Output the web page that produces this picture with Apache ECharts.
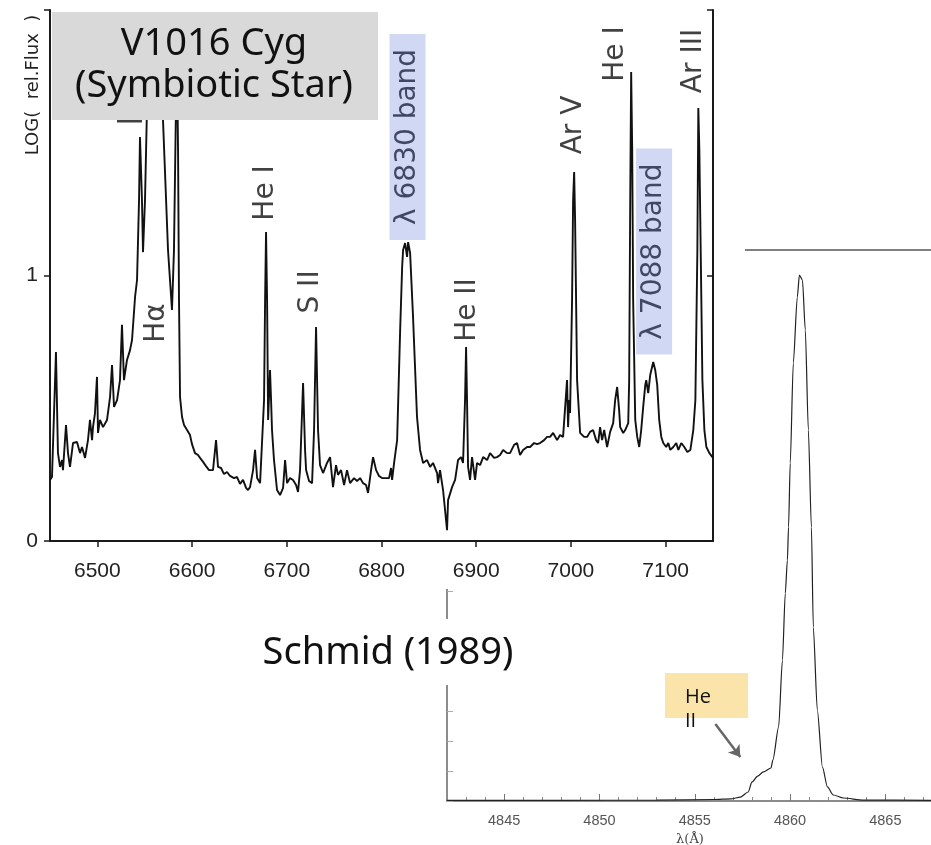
<!DOCTYPE html>
<html><head><meta charset="utf-8">
<script src="https://cdn.jsdelivr.net/npm/echarts@6.0.0/dist/echarts.min.js"></script>
<style>html,body{margin:0;padding:0;background:#fff}#c{width:931px;height:845px}</style>
</head><body><div id="c"></div>
<script>
// ---- Spectrum of V1016 Cyg (Schmid 1989): wavelength (Å) and LOG(rel. flux)
const specWave = [6450.0,6452.1,6456.3,6458.4,6460.6,6462.7,6463.7,6466.9,6469.0,6471.1,
6474.3,6478.5,6481.7,6483.8,6487.0,6490.1,6492.2,6494.4,6495.4,6497.5,
6499.6,6500.7,6502.8,6506.0,6510.2,6513.4,6515.5,6517.6,6520.8,6523.9,
6526.0,6528.1,6531.3,6534.5,6536.6,6539.8,6541.9,6544.0,6545.0,6547.1,
6548.2,6550.3,6553.5,6555.6,6560.9,6566.2,6569.3,6574.6,6578.8,6580.9,
6583.1,6584.1,6585.2,6586.2,6587.3,6589.4,6591.5,6594.7,6597.8,6599.9,
6603.1,6606.3,6608.4,6611.6,6614.7,6617.9,6622.1,6625.3,6627.4,6630.6,
6633.7,6636.9,6640.1,6644.3,6647.5,6650.6,6653.8,6657.0,6659.1,6661.2,
6664.4,6666.5,6668.7,6671.8,6673.9,6676.0,6677.1,6678.1,6679.2,6680.3,
6682.3,6683.4,6684.4,6686.5,6689.7,6692.9,6696.1,6698.2,6700.3,6703.4,
6706.6,6709.8,6711.9,6714.0,6717.2,6719.3,6720.4,6723.5,6726.7,6728.8,
6730.9,6733.0,6735.1,6738.3,6742.5,6745.7,6748.8,6752.0,6754.1,6757.3,
6760.5,6763.6,6766.8,6771.0,6774.2,6777.4,6780.5,6783.7,6785.8,6789.0,
6791.1,6794.3,6797.4,6800.6,6804.8,6808.0,6810.1,6811.2,6813.3,6816.5,
6819.6,6821.8,6822.8,6824.9,6827.0,6828.1,6830.2,6833.3,6837.5,6840.7,
6843.9,6848.1,6851.3,6854.4,6858.7,6859.7,6861.8,6865.0,6869.2,6870.3,
6874.5,6877.7,6880.8,6884.0,6886.1,6888.2,6889.3,6890.3,6891.4,6893.5,
6895.6,6898.8,6900.9,6904.1,6907.3,6911.5,6914.6,6918.9,6922.0,6925.2,
6928.4,6932.6,6935.7,6940.0,6943.1,6946.3,6949.5,6953.7,6956.9,6961.1,
6964.3,6967.4,6971.7,6974.8,6978.0,6981.2,6985.4,6988.5,6991.7,6993.8,
6995.9,6997.0,6998.1,6999.1,7001.2,7002.3,7003.4,7004.4,7006.5,7009.7,
7013.9,7017.1,7020.2,7023.4,7026.6,7028.7,7030.8,7032.9,7035.1,7038.2,
7041.4,7044.6,7046.7,7048.8,7050.9,7052.0,7055.2,7057.3,7060.5,7061.5,
7062.6,7063.6,7064.7,7065.7,7067.9,7070.0,7072.1,7074.2,7076.3,7078.5,
7079.5,7081.6,7083.7,7086.9,7089.0,7091.1,7093.2,7095.4,7097.5,7100.6,
7102.8,7104.9,7108.1,7111.2,7113.4,7116.5,7119.7,7122.9,7126.1,7129.2,
7131.4,7133.5,7134.5,7135.6,7137.7,7138.8,7140.9,7143.0,7146.2,7150.0];
const specLogFlux = [0.230,0.241,0.712,0.331,0.279,0.305,0.267,0.437,0.331,0.279,
0.369,0.373,0.331,0.354,0.313,0.380,0.456,0.380,0.429,0.482,
0.618,0.407,0.456,0.429,0.456,0.542,0.663,0.505,0.531,0.606,
0.814,0.606,0.682,0.719,0.757,0.919,0.983,1.284,1.522,1.284,
1.088,1.284,1.812,1.950,1.980,1.890,1.586,1.096,0.870,1.096,
1.661,1.810,1.473,0.908,0.542,0.467,0.437,0.418,0.399,0.365,
0.331,0.324,0.313,0.298,0.282,0.267,0.267,0.380,0.279,0.275,
0.252,0.260,0.245,0.237,0.241,0.215,0.230,0.200,0.192,0.203,
0.267,0.343,0.237,0.218,0.218,0.531,0.908,1.164,0.908,0.456,
0.644,0.531,0.418,0.305,0.192,0.173,0.200,0.305,0.218,0.237,
0.230,0.211,0.185,0.267,0.595,0.343,0.267,0.226,0.218,0.418,
0.806,0.418,0.286,0.256,0.294,0.316,0.203,0.286,0.249,0.267,
0.211,0.267,0.218,0.237,0.226,0.237,0.218,0.211,0.181,0.267,
0.316,0.267,0.245,0.237,0.237,0.237,0.275,0.230,0.294,0.380,
0.783,1.032,1.096,1.122,1.070,1.126,1.085,0.844,0.467,0.343,
0.294,0.305,0.279,0.294,0.256,0.218,0.267,0.192,0.041,0.154,
0.203,0.230,0.305,0.316,0.294,0.531,0.731,0.531,0.279,0.230,
0.316,0.230,0.294,0.286,0.316,0.305,0.331,0.313,0.316,0.324,
0.343,0.331,0.331,0.362,0.369,0.324,0.343,0.354,0.354,0.369,
0.365,0.369,0.380,0.392,0.392,0.407,0.380,0.399,0.392,0.399,
0.606,0.429,0.531,0.482,0.908,1.284,1.390,1.209,0.606,0.407,
0.392,0.392,0.411,0.418,0.380,0.369,0.429,0.380,0.418,0.354,
0.411,0.444,0.531,0.580,0.493,0.429,0.407,0.418,0.444,0.606,
1.284,1.766,1.473,0.908,0.456,0.392,0.354,0.418,0.505,0.588,
0.606,0.557,0.625,0.674,0.644,0.588,0.456,0.392,0.369,0.354,
0.369,0.343,0.354,0.369,0.343,0.369,0.354,0.335,0.343,0.418,
0.531,1.096,1.631,1.473,0.908,0.606,0.418,0.354,0.331,0.313];
const specXTicks = [6500,6600,6700,6800,6900,7000,7100];
const specYLabels = [0,1];

// line identifications (rotated labels)
const lineLabelNames = ['[N II]','Hα','He I','S II','He II','Ar V','He I','Ar III'];
const lineLabelWave  = [6536.6,6563.0,6678.1,6725.6,6891.4,7003.3,7047.7,7130.0];
const lineLabelPos   = [1.695,0.821,1.311,0.938,0.870,1.567,1.834,1.808];
// highlighted Raman bands
const bandNames = ['λ 6830 band','λ 7088 band'];
const bandWave  = [6827.5,7087.8];
const bandPos   = [1.522,1.090];

// ---- H-beta profile (inset)
const hbWave = [4842.0,4848.0,4853.0,4856.0,4856.9,4857.4,4857.8,4858.0,4858.3,4858.6,
4859.0,4859.1,4859.4,4859.6,4859.75,4859.86,4859.92,4860.01,4860.17,4860.38,
4860.49,4860.65,4860.80,4860.96,4861.12,4861.22,4861.43,4861.70,4861.96,4862.27,
4862.80,4863.85,4867.5];
const hbFlux = [0.02,0.02,0.03,0.05,0.07,0.13,0.30,0.63,0.83,0.97,
1.10,1.37,2.47,4.70,6.93,8.03,9.13,11.27,14.6,16.8,
17.53,17.37,15.7,12.37,9.13,5.8,3.03,1.13,0.47,0.2,
0.1,0.03,0.02];
const hbMajorTicks = [4845,4850,4855,4860,4865];
const hbMinorTicks = [4843,4844,4846,4847,4848,4849,4851,4852,4853,4854,4856,4857,4858,4859,4861,4862,4863,4864,4866,4867];
const arrowFrom = [4856.08,2.57];
const arrowTo   = [4857.39,1.47];

const titleLines = ['V1016 Cyg','(Symbiotic Star)'];
const sourceText = 'Schmid (1989)';
const heIILines = ['He','II'];
const yName = 'LOG(  rel.Flux  )';

const chart = echarts.init(document.getElementById('c'), null, {renderer:'canvas'});
const F = 'Liberation Sans';
const LF = 'DejaVu Sans';
const pair = (xs, ys) => xs.map((x,i)=>[x, ys[i]]);
const plain = v => String(v);
const AX = '#1a1a1a';

const option = {
  backgroundColor:'#fff',
  animation:false,
  grid:[
    {left:50, top:10, width:663, height:531, outerBoundsMode:'none', containLabel:false},
    {left:447, top:250, width:486, height:551, outerBoundsMode:'none', containLabel:false}
  ],
  xAxis:[
    {gridIndex:0, type:'value', position:'bottom', min:6450, max:7150, z:5,
     axisLine:{lineStyle:{color:AX,width:2}},
     axisTick:{show:true, inside:false, length:5, customValues:specXTicks, lineStyle:{color:AX,width:1.5}},
     axisLabel:{customValues:specXTicks, formatter:plain, margin:20, fontFamily:F, fontSize:21, color:'#222'},
     splitLine:{show:false}},
    {gridIndex:0, type:'value', position:'top', min:6450, max:7150, z:5,
     axisLine:{lineStyle:{color:AX,width:2}},
     axisTick:{show:true, inside:true, length:6, customValues:specXTicks, lineStyle:{color:AX,width:1.5}},
     axisLabel:{show:false}, splitLine:{show:false}},
    {gridIndex:1, type:'value', position:'bottom', min:4842, max:4867.5, z:0,
     axisLine:{lineStyle:{color:'#666',width:1.5}},
     axisTick:{show:true, inside:true, length:7, customValues:hbMajorTicks, lineStyle:{color:'#777',width:1}},
     axisLabel:{customValues:hbMajorTicks, formatter:plain, margin:12, fontFamily:F, fontSize:14.5, color:'#555'},
     name:'λ(Å)', nameLocation:'middle', nameGap:31,
     nameTextStyle:{fontFamily:'DejaVu Serif', fontSize:13, color:'#444'},
     splitLine:{show:false}},
    {gridIndex:1, type:'value', position:'bottom', min:4842, max:4867.5, z:0,
     axisLine:{show:false},
     axisTick:{show:true, inside:true, length:4, customValues:hbMinorTicks, lineStyle:{color:'#888',width:1}},
     axisLabel:{show:false}, splitLine:{show:false}},
    {gridIndex:1, type:'value', position:'top', min:4842, max:4867.5, z:0,
     axisLine:{lineStyle:{color:'#808080',width:2}},
     axisTick:{show:false}, axisLabel:{show:false}, splitLine:{show:false}}
  ],
  yAxis:[
    {gridIndex:0, type:'value', position:'left', min:0, max:2, interval:1, z:5,
     axisLine:{show:true, lineStyle:{color:AX,width:2}},
     axisTick:{show:true, inside:false, length:6, lineStyle:{color:AX,width:1.5}},
     axisLabel:{customValues:specYLabels, formatter:plain, margin:12, fontFamily:F, fontSize:21, color:'#222'},
     splitLine:{show:false}},
    {gridIndex:0, type:'value', position:'right', min:0, max:2, interval:1, z:5,
     axisLine:{show:true, lineStyle:{color:AX,width:2}},
     axisTick:{show:true, inside:true, length:6, lineStyle:{color:AX,width:1.5}},
     axisLabel:{show:false}, splitLine:{show:false}},
    {gridIndex:1, type:'value', position:'left', min:0, max:18.37, interval:1, z:0,
     axisLine:{show:true, lineStyle:{color:'#666',width:1.5}},
     axisTick:{show:true, inside:true, length:6, lineStyle:{color:'#aaa',width:1}},
     axisLabel:{show:false}, splitLine:{show:false}}
  ],
  series:[
    {type:'line', name:'V1016 Cyg', xAxisIndex:0, yAxisIndex:0, z:5,
     data:pair(specWave, specLogFlux), showSymbol:false, symbol:'none', clip:true,
     lineStyle:{color:'#111', width:1.9}},
    {type:'scatter', name:'lines', xAxisIndex:0, yAxisIndex:0, z:6, symbolSize:0, silent:true,
     data:lineLabelNames.map((n,i)=>({name:n, value:[lineLabelWave[i], lineLabelPos[i]]})),
     label:{show:true, position:'inside', rotate:90, formatter:'{b}', fontFamily:LF, fontSize:28, color:'#111'}},
    {type:'scatter', name:'bands', xAxisIndex:0, yAxisIndex:0, z:6, symbolSize:0, silent:true,
     data:bandNames.map((n,i)=>({name:n, value:[bandWave[i], bandPos[i]]})),
     label:{show:true, position:'inside', rotate:90, formatter:'{b}', fontFamily:LF, fontSize:28,
            color:'#1c2340', backgroundColor:'#c5cef0', width:180, height:28, lineHeight:28,
            align:'center', padding:[4,13]}},
    {type:'line', name:'H-beta', xAxisIndex:2, yAxisIndex:2, z:0,
     data:pair(hbWave, hbFlux), showSymbol:false, symbol:'none', smooth:0.25, smoothMonotone:'x',
     lineStyle:{color:'#222', width:1.2},
     markLine:{silent:true, symbol:['none','arrow'], symbolSize:11, label:{show:false},
       lineStyle:{color:'#666', width:2.5, type:'solid'},
       data:[[{coord:arrowFrom},{coord:arrowTo}]]}}
  ],
  graphic:[
    {type:'rect', z:1, silent:true, shape:{x:0,y:0,width:745,height:589}, style:{fill:'#fff'}},
    {type:'rect', z:1, silent:true, shape:{x:255,y:619,width:265,height:66}, style:{fill:'#fff'}},
    {type:'text', z:2, x:388, y:653, style:{text:sourceText, font:'38px "Noto Sans"', fill:'#111', align:'center', verticalAlign:'middle'}},
    {type:'rect', z:100, shape:{x:52,y:12,width:326,height:108}, style:{fill:'#d9d9d9'}},
    {type:'text', z:101, x:214, y:44, style:{text:titleLines[0], font:'38px "Noto Sans"', fill:'#111', align:'center', verticalAlign:'middle'}},
    {type:'text', z:101, x:214, y:86, style:{text:titleLines[1], font:'38px "Noto Sans"', fill:'#111', align:'center', verticalAlign:'middle'}},
    {type:'rect', z:3, shape:{x:665,y:673,width:83,height:45}, style:{fill:'#fbe4a9'}},
    {type:'text', z:4, x:685, y:697, style:{text:heIILines[0], font:'20px "Open Sans"', fill:'#111', align:'left', verticalAlign:'middle'}},
    {type:'text', z:4, x:685, y:721, style:{text:heIILines[1], font:'20px "Open Sans"', fill:'#111', align:'left', verticalAlign:'middle'}},
    {type:'text', z:5, x:33, y:85, rotation:Math.PI/2, style:{text:yName, font:'18px "DejaVu Sans"', fill:'#222', align:'center', verticalAlign:'middle'}}
  ]
};
chart.setOption(option);
</script></body></html>
